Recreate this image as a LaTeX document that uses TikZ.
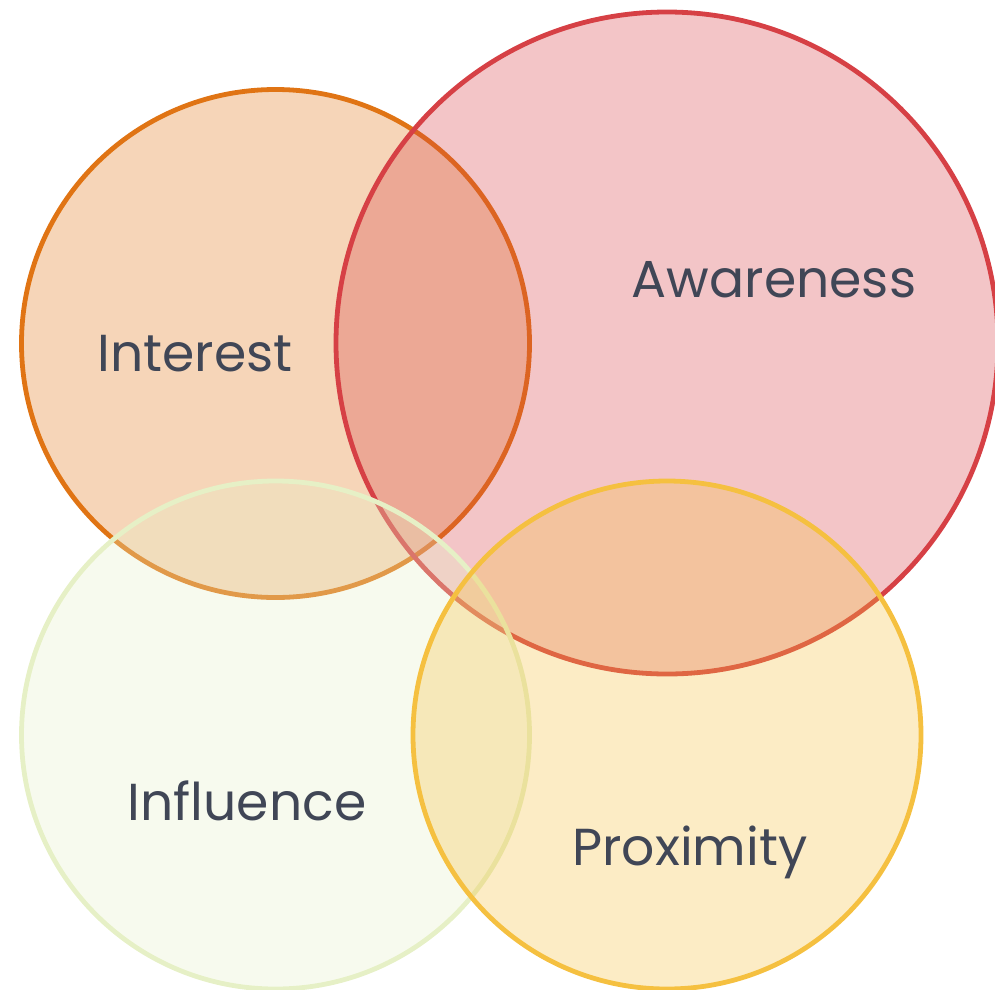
\documentclass[tikz,border=0pt]{standalone}
\usepackage{fontspec}
\newfontfamily\lblfont{Poppins}
\definecolor{cInterest}{RGB}{224,116,20}
\definecolor{cAware}{RGB}{214,64,69}
\definecolor{cInfl}{RGB}{230,240,198}
\definecolor{cProx}{RGB}{245,192,64}
\definecolor{cText}{RGB}{64,70,86}
\tikzset{
  vcircle/.style={line width=3.6pt, fill opacity=0.3, draw opacity=1},
  lbl/.style={text=cText, font=\lblfont\fontsize{39}{44}\selectfont, inner sep=0pt}
}
\begin{document}
\begin{tikzpicture}[x=0.75pt,y=-0.75pt]
\useasboundingbox (0,0) rectangle (995,989);
\begin{scope}
\clip (0,0) rectangle (995,989);
\draw[vcircle, draw=cInterest, fill=cInterest] (275.5,343.5) circle[radius=254];
\draw[vcircle, draw=cAware, fill=cAware] (667,343) circle[radius=331];
\draw[vcircle, draw=cInfl, fill=cInfl] (275.5,735) circle[radius=254];
\draw[vcircle, draw=cProx, fill=cProx] (667,735) circle[radius=254];
\end{scope}
\node[lbl] (interest) at (195,354) {Interest};
\node[lbl] (awareness) at (774,280) {Awareness};
\node[lbl] (influence) at (247,801) {Influence};
\node[lbl] (proximity) at (690,852) {Proximity};
\end{tikzpicture}
\end{document}
